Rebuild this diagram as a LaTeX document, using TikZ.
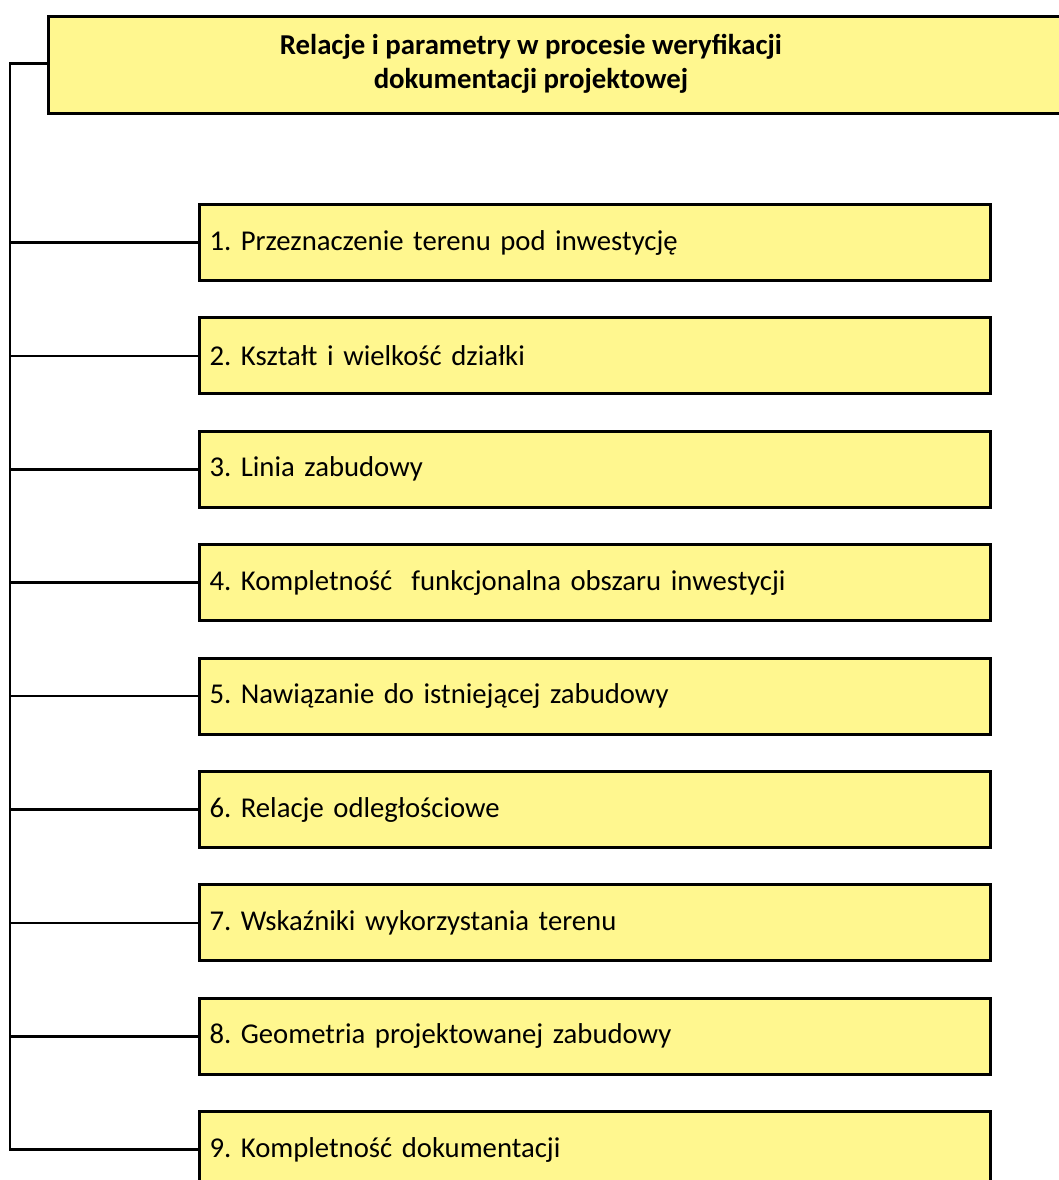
\documentclass[tikz,border=0pt]{standalone}
\usepackage{fontspec}
\setmainfont{Carlito}
\frenchspacing
\definecolor{boxfill}{RGB}{255,247,143}
\tikzset{
  itembox/.style={draw=black, fill=boxfill, line width=3pt, rectangle,
    anchor=north west, minimum height=76pt, text width=771pt, inner xsep=10pt,
    align=left, font=\fontsize{28.7}{34}\selectfont},
  headbox/.style={draw=black, fill=boxfill, line width=3pt, rectangle,
    anchor=north west, minimum height=97pt, minimum width=1040pt, inner sep=0pt},
  link/.style={line width=2.5pt, line cap=rect}
}
\begin{document}
\begin{tikzpicture}[x=1pt,y=-1pt]
  \useasboundingbox (0,0) rectangle (1059,1180);
  \clip (0,0) rectangle (1059,1180);
  % heading box (runs past the right edge)
  \node[headbox] (head) at (47,15) {};
  \node[align=center, font=\bfseries\fontsize{28.8}{34}\selectfont, anchor=center]
    (headtext) at (531,64) {Relacje i parametry w procesie weryfikacji\\dokumentacji projektowej};
  % list of items
  \foreach \i/\t in {1/{1. Przeznaczenie terenu pod inwestycję},
                     2/{2. Kształt i wielkość działki},
                     3/{3. Linia zabudowy},
                     4/{4. Kompletność\ \ funkcjonalna obszaru inwestycji},
                     5/{5. Nawiązanie do istniejącej zabudowy},
                     6/{6. Relacje odległościowe},
                     7/{7. Wskaźniki wykorzystania terenu},
                     8/{8. Geometria projektowanej zabudowy},
                     9/{9. Kompletność dokumentacji}}{
    \node[itembox] (b\i) at (198,{203+(\i-1)*113.4}) {\t};
  }
  % trunk line on the left
  \coordinate (trunktop) at (10,63.5);
  \draw[link] (head.west |- trunktop) -- (trunktop) |- (b9.west);
  \foreach \i in {1,...,8}{
    \draw[link] (b\i.west) -- (b\i.west -| trunktop);
  }
\end{tikzpicture}
\end{document}
